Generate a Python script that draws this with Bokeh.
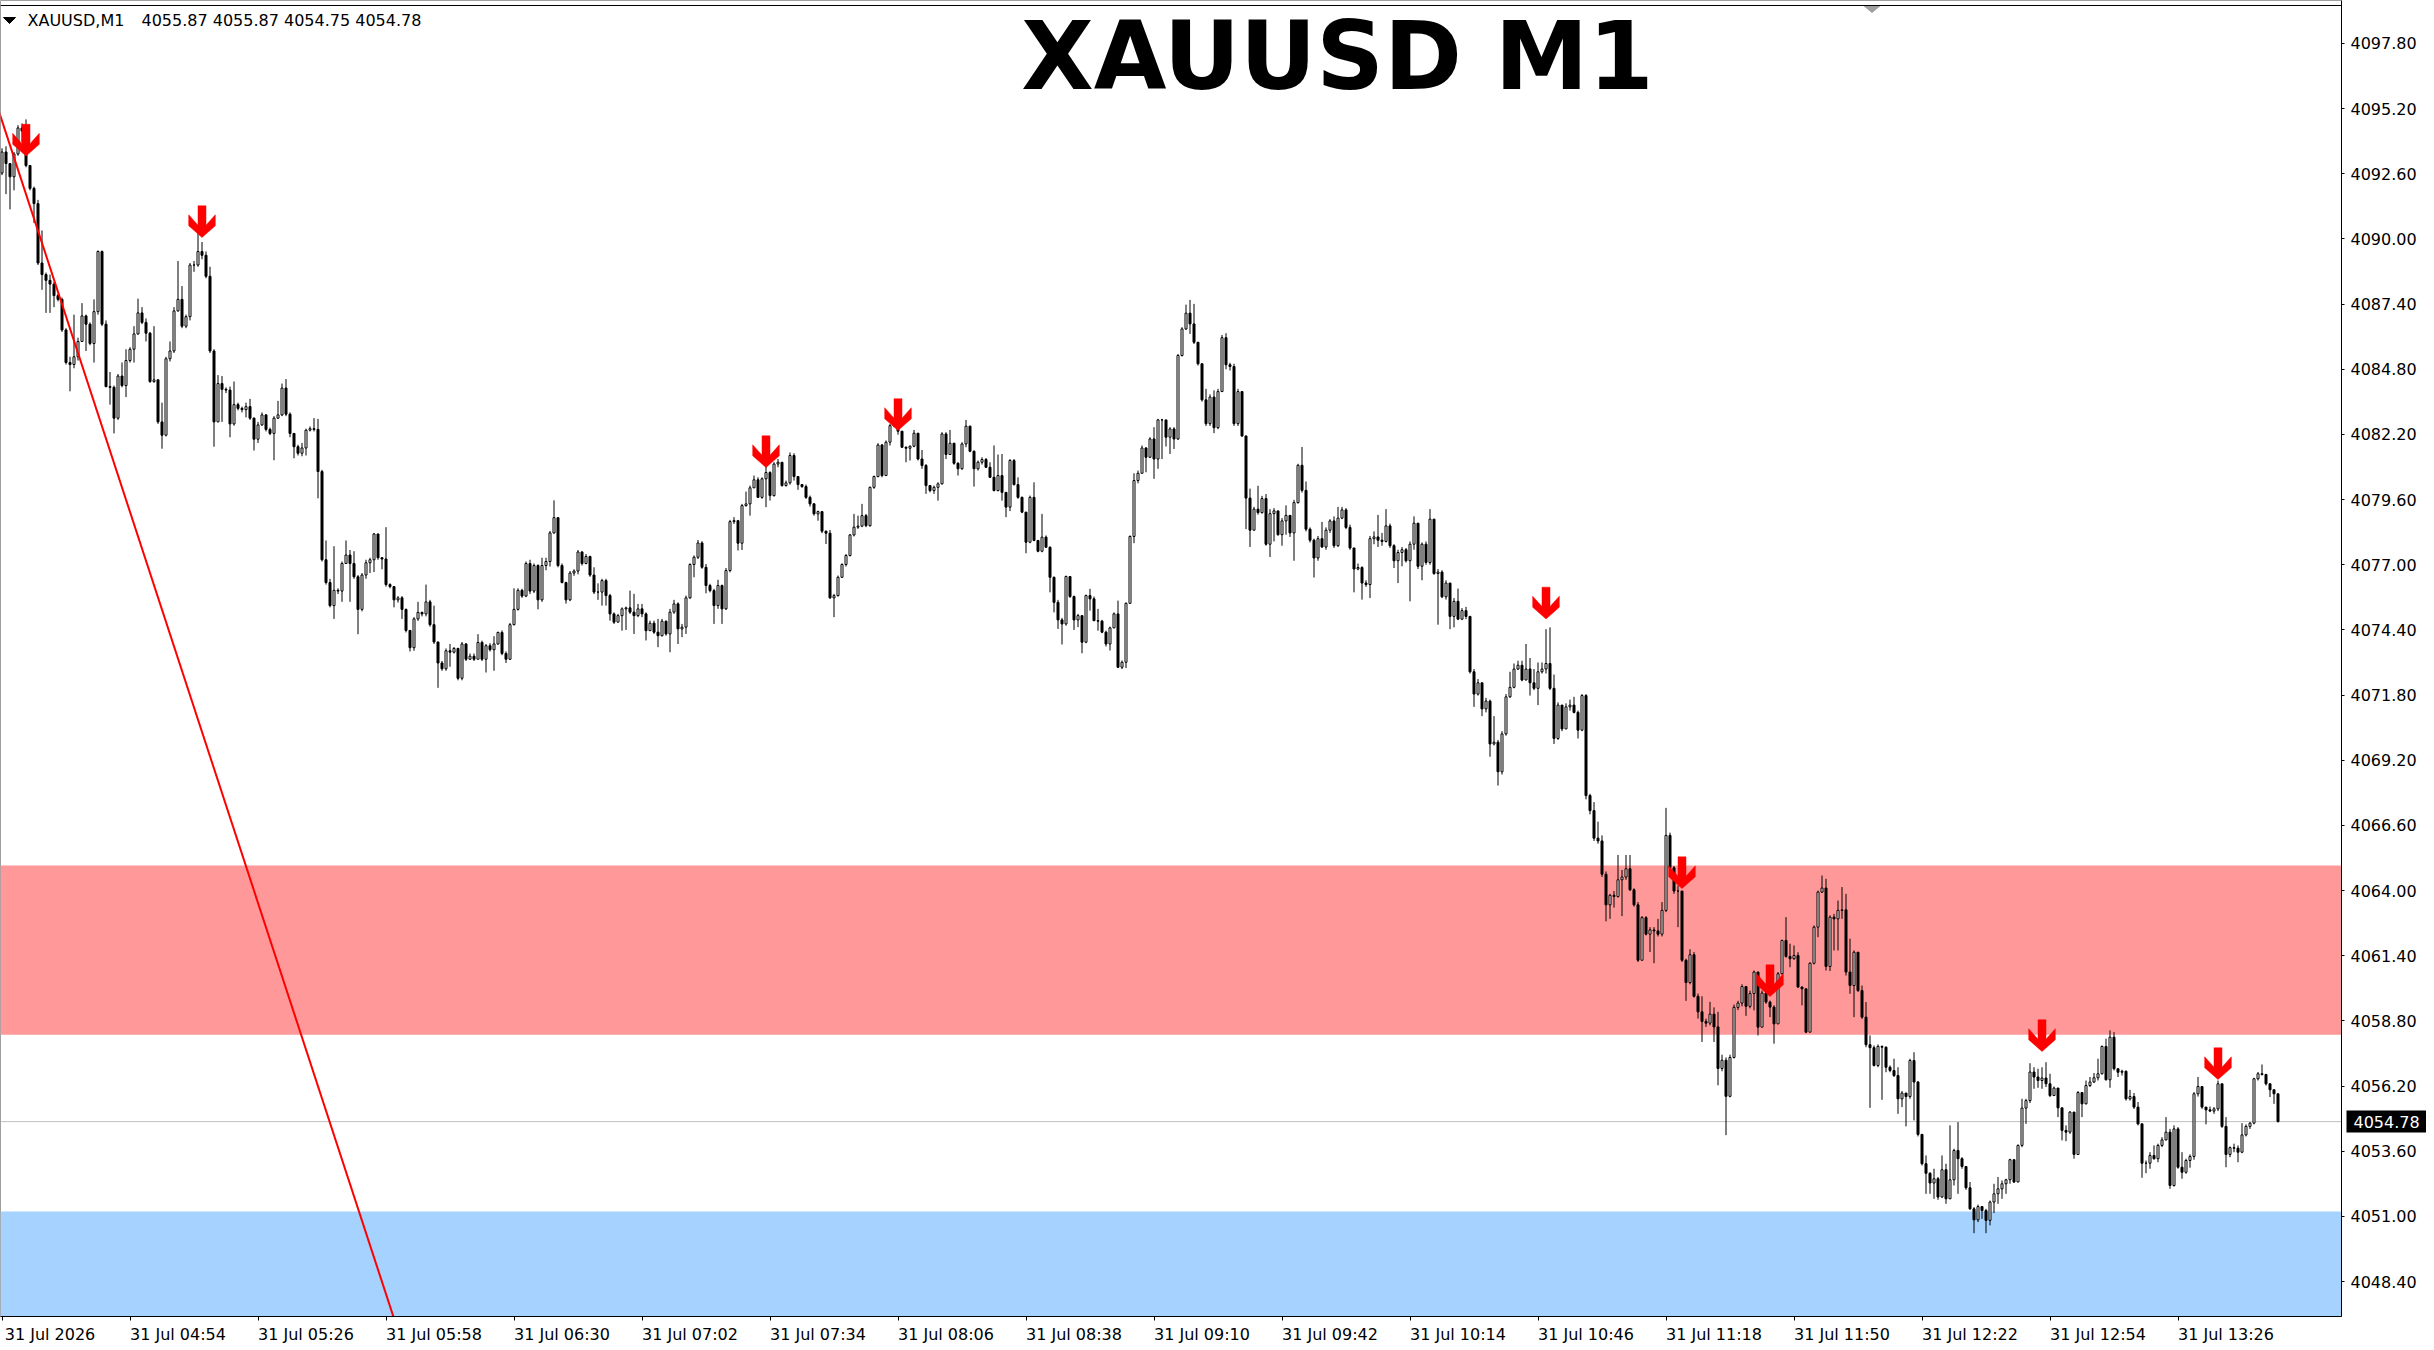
from bokeh.plotting import figure
from bokeh.models import (Range1d, FixedTicker, BoxAnnotation, Span, Label, PrintfTickFormatter,
                          ColumnDataSource, LinearAxis)
from bokeh.embed import file_html
from bokeh.resources import INLINE

# ---------------- data (XAUUSD M1) ----------------
FIRST_OPEN = 4092.63
CLOSE = [
4093.47, 4093.01, 4092.48, 4093.39, 4094.43, 4094.31, 4092.93, 4092.02, 4091.41, 4089.04,
4088.58, 4088.35, 4088.20, 4087.74, 4087.59, 4086.37, 4085.07, 4084.99, 4085.30, 4085.91,
4086.93, 4086.60, 4085.83, 4087.10, 4089.50, 4086.60, 4084.11, 4084.08, 4082.85, 4084.53,
4084.15, 4085.15, 4085.60, 4086.21, 4087.05, 4086.67, 4086.24, 4084.31, 4084.38, 4082.70,
4082.17, 4085.22, 4085.53, 4087.13, 4087.59, 4086.52, 4086.90, 4088.96, 4088.96, 4089.50,
4089.35, 4088.51, 4085.53, 4082.70, 4084.23, 4084.00, 4083.97, 4082.62, 4083.39, 4083.24,
4083.19, 4083.31, 4082.85, 4082.01, 4082.58, 4082.98, 4082.40, 4082.24, 4082.85, 4082.98,
4084.05, 4083.01, 4082.24, 4081.71, 4081.45, 4081.66, 4082.37, 4082.43, 4082.40, 4080.72,
4077.20, 4076.29, 4075.37, 4075.98, 4075.95, 4077.05, 4077.39, 4077.05, 4076.52, 4075.22,
4076.59, 4077.08, 4077.20, 4078.23, 4077.28, 4077.23, 4076.21, 4076.13, 4075.60, 4075.68,
4075.22, 4074.38, 4073.69, 4074.84, 4075.10, 4075.04, 4075.52, 4074.61, 4073.92, 4073.08,
4072.85, 4073.57, 4073.51, 4073.66, 4072.47, 4073.84, 4073.23, 4073.35, 4073.23, 4073.90,
4073.23, 4073.77, 4073.61, 4073.84, 4074.30, 4073.46, 4073.23, 4074.61, 4075.22, 4075.98,
4075.75, 4077.05, 4075.95, 4076.97, 4075.60, 4076.97, 4077.13, 4078.27, 4078.88, 4076.97,
4076.29, 4075.60, 4076.67, 4076.75, 4077.51, 4077.05, 4077.33, 4076.59, 4075.91, 4075.91,
4076.37, 4075.77, 4075.04, 4074.71, 4074.97, 4075.24, 4075.28, 4075.11, 4074.97, 4075.24,
4075.04, 4074.37, 4074.67, 4074.31, 4074.17, 4074.75, 4074.24, 4075.11, 4075.44, 4074.44,
4074.51, 4075.68, 4077.01, 4077.30, 4077.87, 4076.90, 4076.17, 4075.97, 4075.37, 4076.17,
4075.24, 4076.77, 4078.72, 4078.76, 4077.86, 4079.36, 4079.43, 4080.07, 4080.39, 4079.69,
4080.43, 4080.68, 4079.76, 4081.02, 4081.09, 4080.16, 4080.27, 4081.36, 4080.52, 4080.20,
4080.12, 4079.69, 4079.43, 4079.03, 4079.12, 4078.34, 4078.26, 4075.68, 4075.77, 4076.50,
4077.01, 4077.37, 4078.19, 4078.50, 4078.54, 4078.96, 4078.56, 4080.09, 4080.52, 4081.78,
4080.56, 4081.89, 4082.55, 4082.62, 4082.33, 4081.69, 4081.65, 4081.73, 4082.25, 4081.22,
4080.96, 4080.16, 4079.96, 4080.09, 4080.23, 4082.22, 4081.40, 4081.85,
4081.05, 4080.83, 4081.82, 4082.53, 4081.53, 4080.83, 4081.09, 4081.20, 4080.89, 4080.49,
4079.96, 4080.56, 4079.89, 4079.30, 4081.16, 4080.20, 4079.69, 4079.10, 4077.90, 4079.69,
4077.97, 4077.54, 4078.10, 4077.70, 4076.50, 4075.50, 4074.80, 4074.64, 4076.53, 4075.73,
4074.80, 4074.97, 4073.91, 4075.77, 4075.64, 4074.77, 4074.75, 4074.31, 4073.84, 4074.48,
4075.04, 4072.91, 4073.11, 4075.46, 4078.13, 4080.36, 4080.65, 4081.66, 4081.29, 4082.02,
4081.22, 4082.78, 4082.78, 4082.09, 4082.42, 4082.02, 4085.35, 4086.41, 4087.04, 4086.61,
4085.88, 4085.02,
4083.58, 4082.63, 4083.69, 4082.47, 4083.91, 4086.06, 4084.98, 4084.91, 4082.63, 4083.91,
4082.14, 4079.66, 4078.38, 4079.22, 4079.08, 4079.64, 4077.82, 4079.04, 4079.15, 4078.20,
4078.75, 4078.97, 4078.27, 4079.48, 4080.97, 4079.97, 4078.42, 4077.98, 4077.27, 4078.04,
4077.71, 4078.38, 4078.75, 4077.76, 4078.86, 4079.19, 4078.49, 4077.67, 4076.83, 4076.89,
4076.27, 4076.21, 4078.04, 4078.11, 4077.98,
4077.93, 4078.55, 4077.76, 4077.16, 4077.49, 4077.60, 4077.16, 4077.82, 4078.66, 4076.94,
4077.82, 4077.09, 4078.82, 4076.65, 4076.71, 4075.72, 4076.27, 4074.94, 4075.54, 4074.83,
4075.17, 4074.94, 4072.73, 4071.84, 4072.29, 4071.25, 4071.56, 4069.85, 4069.92, 4068.74,
4070.25, 4071.73, 4072.11, 4072.84, 4072.99, 4072.40, 4072.84, 4072.29, 4072.07, 4072.73,
4072.84, 4073.06, 4072.07, 4070.07, 4071.40, 4070.45, 4071.33, 4071.40,
4071.11, 4070.40, 4071.78, 4067.79, 4067.19, 4066.09, 4065.98, 4064.65, 4063.43, 4063.81,
4063.76, 4064.43, 4064.54, 4064.87, 4064.03, 4063.43, 4061.22, 4062.92, 4062.26, 4062.43,
4062.39, 4062.26, 4063.21, 4066.20, 4064.91, 4063.98, 4063.98, 4061.22, 4060.33, 4061.44,
4059.78, 4059.16, 4058.78, 4058.71, 4059.07, 4058.56, 4056.90, 4057.23, 4055.79, 4057.34,
4059.34, 4059.51, 4060.17, 4059.38, 4059.89,
4060.75, 4058.55, 4059.91, 4059.55, 4059.35, 4058.68, 4060.68, 4062.01, 4061.37, 4061.28,
4061.41, 4060.15, 4060.08, 4058.35, 4061.10, 4062.54, 4063.94, 4064.10, 4060.97, 4062.94,
4062.87,
4063.21, 4063.23, 4060.75, 4060.21, 4061.54, 4060.01, 4058.95, 4057.85, 4057.73, 4057.02,
4057.78, 4057.75, 4056.95,
4056.82,
4056.62, 4055.69, 4055.92, 4055.78, 4057.22, 4056.36, 4054.27, 4053.10, 4052.72, 4052.33,
4052.50, 4051.77, 4052.86, 4051.70, 4052.46, 4053.63, 4053.30, 4052.99, 4052.14, 4051.30,
4050.86, 4051.39, 4051.23, 4050.84, 4051.57, 4051.90, 4052.10, 4052.30, 4052.46, 4053.26,
4052.37, 4053.83, 4055.32, 4055.62, 4056.76, 4056.56, 4056.42, 4056.52, 4056.29, 4055.82,
4056.12, 4055.33, 4054.43, 4054.36, 4055.16, 4053.47, 4055.94, 4055.49, 4056.22, 4056.36,
4056.53, 4056.69, 4057.78, 4056.45, 4058.15, 4056.89, 4056.75, 4056.79, 4055.69, 4055.78,
4055.36, 4054.69, 4053.12, 4053.12, 4053.43, 4053.30, 4053.83, 4054.05, 4054.36, 4052.23,
4054.49, 4052.96, 4052.76, 4053.23, 4053.39, 4055.89, 4056.18, 4055.36, 4055.25, 4055.20,
4055.29, 4056.29, 4054.59, 4053.47, 4053.74, 4053.72, 4053.56, 4054.25, 4054.59, 4054.72,
4056.49, 4056.69, 4056.66, 4056.29, 4056.05, 4055.89, 4054.78,
]
HIGH = [
4093.62, 4093.70, 4093.01, 4093.47, 4094.54, 4094.61, 4094.77, 4092.93, 4092.09, 4091.56,
4090.34, 4088.66, 4088.58, 4088.28, 4087.82, 4087.66, 4086.44, 4085.30, 4086.98, 4086.06,
4087.44, 4086.98, 4086.67, 4087.59, 4089.54, 4089.54, 4086.75, 4084.69, 4084.15, 4084.61,
4085.07, 4085.60, 4085.68, 4086.52, 4087.62, 4087.28, 4086.83, 4086.29, 4086.52, 4084.38,
4083.47, 4085.30, 4085.91, 4087.28, 4089.12, 4088.12, 4086.98, 4089.04, 4089.12, 4090.26,
4089.88, 4089.50, 4088.89, 4085.60, 4084.57, 4084.53, 4084.08, 4084.11, 4084.31, 4083.47,
4083.31, 4083.47, 4083.62, 4082.88, 4082.70, 4083.08, 4083.01, 4082.47, 4082.93, 4083.54,
4084.23, 4084.41, 4083.08, 4082.24, 4081.79, 4081.86, 4082.43, 4082.52, 4082.85, 4082.82,
4080.79, 4077.97, 4076.44, 4077.74, 4076.06, 4077.13, 4077.97, 4077.59, 4077.54, 4076.59,
4076.67, 4077.20, 4077.28, 4078.27, 4078.23, 4077.31, 4078.50, 4076.26, 4076.13, 4075.75,
4075.75, 4075.25, 4074.38, 4074.91, 4075.52, 4075.13, 4076.21, 4075.60, 4075.37, 4073.92,
4073.16, 4073.66, 4073.84, 4073.72, 4073.69, 4073.92, 4073.87, 4073.46, 4073.46, 4074.23,
4073.97, 4073.84, 4073.87, 4074.15, 4074.33, 4074.38, 4073.54, 4074.68, 4076.06, 4076.06,
4076.04, 4077.13, 4077.20, 4077.05, 4077.02, 4077.28, 4077.28, 4078.35, 4079.57, 4078.81,
4077.05, 4076.32, 4076.75, 4076.82, 4077.59, 4077.54, 4077.43, 4077.36, 4076.90, 4076.26,
4076.44, 4076.44, 4075.84, 4075.10, 4075.04, 4075.30, 4075.33, 4075.97, 4075.84, 4075.44,
4075.44, 4075.10, 4074.77, 4074.77, 4074.84, 4074.84, 4074.77, 4075.24, 4075.60, 4075.50,
4074.64, 4075.77, 4077.06, 4077.37, 4077.99, 4077.94, 4077.03, 4076.24, 4076.04, 4076.40,
4076.21, 4076.87, 4078.79, 4078.90, 4078.79, 4079.43, 4079.92, 4080.16, 4080.56, 4080.49,
4080.49, 4081.02, 4080.73, 4081.09, 4081.22, 4081.05, 4080.36, 4081.48, 4081.45, 4080.43,
4080.20, 4080.20, 4079.76, 4079.46, 4079.16, 4079.14, 4078.36, 4078.39, 4075.84, 4076.57,
4077.06, 4077.43, 4078.23, 4079.03, 4078.96, 4079.43, 4079.03, 4080.12, 4080.56, 4081.85,
4081.82, 4081.96, 4082.62, 4082.69, 4082.51, 4082.33, 4081.72, 4081.76, 4082.38, 4082.22,
4081.58, 4081.02, 4080.16, 4080.16, 4080.29, 4082.29, 4082.29, 4082.38,
4081.58, 4081.09, 4081.89, 4082.78, 4082.55, 4081.56, 4081.16, 4081.29, 4081.26, 4081.09,
4081.76, 4081.40, 4081.42, 4079.85, 4081.22, 4081.22, 4080.49, 4079.72, 4079.10, 4079.76,
4080.29, 4077.99, 4079.03, 4078.17, 4077.73, 4076.53, 4075.60, 4074.88, 4076.57, 4076.50,
4075.77, 4075.04, 4074.64, 4075.81, 4076.04, 4075.73, 4075.24, 4074.80, 4074.37, 4074.53,
4075.10, 4075.57, 4073.18, 4075.50, 4078.17, 4080.65, 4080.76, 4081.76, 4081.69, 4082.09,
4082.49, 4082.82, 4082.82, 4082.42, 4082.49, 4082.49, 4085.41, 4086.48, 4087.38, 4087.57,
4087.41, 4085.88,
4085.02, 4084.02, 4083.80, 4083.96, 4084.02, 4086.17, 4086.24, 4085.06, 4085.02, 4084.02,
4083.91, 4081.92, 4080.04, 4079.31, 4080.15, 4079.75, 4079.82, 4079.22, 4079.26, 4078.86,
4078.86, 4079.37, 4078.93, 4079.59, 4081.03, 4081.70, 4080.32, 4078.49, 4078.04, 4078.15,
4078.71, 4078.49, 4078.82, 4078.93, 4079.31, 4079.31, 4079.26, 4078.60, 4077.67, 4077.05,
4076.94, 4076.38, 4078.15, 4078.33, 4078.99,
4078.27, 4079.22, 4078.64, 4077.82, 4077.60, 4077.71, 4077.67, 4077.93, 4078.93, 4078.64,
4077.89, 4077.93, 4079.22, 4078.77, 4076.83, 4076.78, 4076.38, 4076.21, 4075.67, 4076.05,
4075.27, 4075.32, 4074.94, 4072.84, 4072.44, 4071.95, 4071.69, 4071.62, 4070.96, 4070.01,
4070.36, 4071.84, 4072.73, 4073.06, 4073.17, 4073.17, 4073.84, 4073.28, 4072.84, 4073.10,
4073.10, 4074.43, 4074.50, 4072.62, 4071.51, 4071.40, 4071.47, 4071.62,
4071.73, 4071.18, 4071.84, 4071.84, 4067.86, 4067.53, 4066.75, 4066.20, 4064.76, 4063.87,
4063.98, 4065.42, 4064.82, 4065.42, 4065.42, 4064.09, 4063.54, 4062.98, 4062.98, 4062.54,
4062.54, 4062.87, 4063.54, 4067.30, 4066.31, 4064.98, 4064.20, 4063.87, 4061.28, 4061.66,
4061.55, 4059.89, 4059.78, 4058.89, 4059.56, 4059.34, 4059.16, 4057.45, 4057.34, 4057.45,
4059.45, 4059.60, 4060.26, 4059.60, 4060.01,
4060.81, 4060.75, 4060.01, 4060.15, 4059.61, 4059.42, 4060.75, 4062.04, 4062.94, 4061.88,
4061.81, 4061.54, 4060.17, 4060.08, 4061.14, 4062.61, 4064.00, 4064.60, 4064.47, 4063.01,
4063.07,
4063.60, 4064.14, 4063.87, 4062.08, 4061.61, 4061.48, 4060.21, 4059.55, 4058.22, 4057.82,
4057.86, 4057.82, 4057.78,
4057.02,
4057.29, 4056.95, 4056.00, 4055.92, 4057.29, 4057.55, 4056.40, 4054.29, 4053.43, 4052.76,
4052.90, 4052.57, 4053.43, 4053.10, 4054.63, 4053.70, 4054.76, 4053.36, 4052.99, 4052.37,
4051.37, 4051.47, 4051.37, 4051.30, 4051.63, 4052.30, 4052.57, 4052.43, 4052.50, 4053.30,
4053.26, 4053.87, 4055.69, 4055.69, 4057.11, 4056.95, 4056.89, 4056.95, 4057.15, 4056.69,
4056.18, 4056.05, 4055.16, 4054.63, 4055.20, 4055.16, 4056.00, 4055.96, 4056.42, 4056.56,
4056.72, 4057.29, 4057.82, 4058.09, 4058.42, 4058.35, 4056.89, 4056.85, 4056.82, 4056.05,
4055.92, 4055.56, 4054.72, 4053.23, 4053.56, 4053.83, 4053.90, 4054.16, 4054.96, 4054.49,
4054.63, 4054.56, 4053.56, 4053.30, 4053.47, 4055.96, 4056.56, 4056.18, 4055.36, 4055.38,
4055.36, 4056.42, 4056.22, 4054.96, 4053.79, 4053.90, 4053.83, 4054.72, 4054.67, 4054.76,
4056.53, 4056.76, 4057.06, 4056.69, 4056.29, 4056.05, 4055.87,
]
LOW = [
4092.55, 4091.79, 4091.18, 4091.94, 4093.32, 4093.85, 4092.86, 4091.94, 4090.64, 4088.96,
4087.97, 4087.05, 4087.05, 4087.28, 4087.51, 4086.29, 4084.99, 4083.92, 4084.84, 4085.15,
4086.06, 4085.53, 4085.76, 4085.07, 4086.98, 4086.52, 4084.08, 4083.39, 4082.24, 4082.78,
4084.08, 4083.69, 4085.07, 4085.07, 4086.18, 4086.60, 4085.91, 4084.26, 4084.26, 4082.62,
4081.63, 4082.12, 4085.11, 4085.45, 4087.10, 4086.44, 4086.44, 4086.75, 4088.69, 4088.89,
4089.19, 4088.43, 4085.45, 4081.71, 4082.70, 4082.70, 4083.85, 4082.09, 4082.55, 4083.16,
4083.08, 4082.88, 4082.78, 4081.56, 4081.86, 4082.55, 4082.32, 4082.17, 4081.17, 4082.82,
4082.93, 4082.93, 4082.09, 4081.25, 4081.36, 4081.33, 4081.36, 4082.32, 4082.32, 4079.65,
4077.13, 4076.21, 4075.30, 4074.84, 4075.83, 4075.52, 4077.20, 4075.52, 4076.44, 4074.23,
4075.14, 4076.44, 4076.67, 4076.71, 4077.20, 4076.82, 4076.13, 4076.06, 4075.30, 4075.49,
4074.84, 4074.30, 4073.54, 4073.57, 4074.76, 4074.94, 4074.94, 4074.53, 4073.84, 4072.09,
4072.77, 4072.77, 4072.93, 4073.46, 4072.39, 4072.39, 4073.16, 4073.20, 4073.16, 4073.26,
4073.16, 4072.70, 4073.54, 4072.77, 4073.81, 4073.39, 4073.08, 4073.20, 4074.58, 4075.17,
4075.68, 4075.71, 4075.83, 4075.87, 4075.22, 4075.52, 4076.78, 4076.93, 4078.24, 4076.90,
4076.26, 4075.45, 4075.55, 4076.56, 4076.62, 4076.97, 4077.02, 4076.52, 4075.83, 4075.60,
4075.37, 4075.37, 4074.77, 4074.64, 4074.71, 4074.37, 4074.40, 4075.04, 4074.24, 4074.91,
4074.91, 4073.98, 4074.44, 4074.24, 4073.71, 4074.14, 4074.17, 4073.51, 4075.04, 4073.84,
4074.11, 4074.24, 4075.64, 4076.50, 4077.23, 4076.84, 4075.86, 4075.90, 4074.64, 4075.24,
4074.64, 4075.20, 4076.70, 4078.63, 4077.57, 4077.59, 4079.32, 4078.96, 4080.07, 4079.67,
4079.63, 4079.30, 4079.56, 4079.72, 4080.89, 4080.12, 4080.12, 4080.20, 4080.36, 4079.99,
4080.07, 4079.63, 4079.32, 4078.96, 4078.76, 4078.26, 4077.83, 4075.64, 4074.91, 4075.73,
4076.48, 4076.93, 4077.33, 4078.13, 4078.43, 4078.50, 4078.50, 4078.52, 4080.03, 4080.49,
4080.49, 4080.96, 4081.76, 4082.49, 4082.19, 4081.66, 4081.09, 4081.16, 4081.69, 4081.16,
4080.83, 4079.83, 4079.89, 4079.83, 4079.56, 4080.20, 4081.22, 4081.42,
4080.99, 4080.56, 4080.79, 4081.69, 4081.49, 4080.12, 4080.76, 4081.00, 4080.87, 4080.47,
4079.93, 4079.93, 4079.56, 4078.90, 4079.14, 4080.16, 4079.63, 4079.06, 4077.46, 4077.86,
4077.94, 4077.50, 4077.50, 4077.67, 4075.90, 4075.10, 4074.44, 4073.82, 4074.57, 4075.68,
4074.40, 4074.51, 4073.47, 4073.87, 4075.17, 4074.75, 4074.37, 4074.27, 4073.74, 4073.58,
4074.51, 4072.88, 4072.84, 4072.88, 4075.84, 4077.86, 4080.25, 4080.69, 4080.69, 4081.26,
4080.43, 4080.83, 4081.22, 4081.72, 4081.42, 4081.62, 4081.98, 4085.31, 4086.37, 4086.21,
4085.81, 4084.95,
4083.51, 4082.54, 4082.54, 4082.25, 4082.41, 4083.91, 4084.80, 4084.75, 4082.54, 4082.54,
4082.10, 4078.42, 4077.71, 4078.38, 4079.00, 4079.04, 4077.76, 4077.31, 4077.93, 4078.16,
4077.76, 4078.20, 4078.11, 4077.16, 4079.44, 4079.88, 4078.33, 4077.89, 4076.49, 4077.16,
4077.67, 4077.60, 4078.27, 4077.67, 4077.71, 4078.82, 4078.42, 4077.60, 4075.90, 4076.78,
4075.61, 4076.12, 4075.67, 4077.82, 4077.71,
4077.76, 4077.89, 4077.67, 4076.87, 4076.27, 4076.94, 4077.09, 4075.54, 4077.60, 4076.83,
4076.38, 4077.00, 4077.00, 4076.60, 4074.61, 4075.67, 4075.61, 4074.43, 4074.50, 4074.79,
4074.79, 4074.83, 4072.66, 4071.33, 4071.78, 4070.96, 4071.11, 4069.34, 4069.79, 4068.19,
4068.63, 4070.18, 4071.69, 4072.07, 4072.80, 4072.35, 4072.44, 4071.78, 4072.00, 4071.40,
4072.66, 4072.66, 4072.00, 4069.85, 4070.01, 4070.36, 4070.45, 4071.18,
4071.07, 4070.07, 4070.36, 4067.64, 4067.04, 4065.98, 4065.87, 4064.54, 4062.77, 4062.87,
4063.32, 4063.72, 4062.98, 4064.43, 4063.98, 4063.36, 4061.15, 4061.22, 4062.21, 4061.55,
4061.10, 4062.17, 4062.17, 4063.14, 4064.87, 4063.87, 4062.54, 4061.15, 4059.60, 4060.26,
4059.73, 4058.89, 4057.96, 4058.56, 4058.62, 4057.96, 4056.23, 4056.79, 4054.24, 4055.75,
4057.30, 4059.23, 4059.38, 4059.00, 4059.30,
4059.22, 4058.22, 4058.55, 4059.48, 4058.95, 4057.89, 4058.79, 4060.65, 4061.32, 4060.94,
4061.24, 4060.12, 4059.42, 4058.31, 4058.35, 4061.05, 4062.14, 4063.90, 4060.81, 4060.79,
4061.61,
4061.61, 4062.87, 4060.61, 4059.88, 4058.95, 4059.95, 4058.88, 4057.75, 4055.33, 4056.98,
4056.95, 4055.65, 4056.75,
4056.75,
4056.56, 4055.09, 4055.36, 4054.59, 4055.69, 4054.83, 4054.19, 4053.03, 4051.90, 4051.90,
4051.70, 4051.66, 4051.74, 4051.50, 4051.77, 4052.23, 4051.90, 4052.90, 4052.06, 4051.26,
4050.33, 4050.77, 4050.90, 4050.33, 4050.64, 4051.13, 4051.50, 4051.70, 4051.90, 4052.30,
4052.33, 4052.37, 4053.76, 4054.69, 4055.52, 4056.09, 4056.13, 4056.09, 4056.16, 4055.76,
4055.82, 4054.96, 4054.03, 4054.00, 4054.29, 4053.30, 4053.52, 4054.96, 4055.47, 4056.16,
4056.32, 4056.42, 4056.66, 4056.42, 4056.13, 4056.82, 4056.56, 4056.62, 4055.62, 4055.62,
4055.29, 4054.63, 4052.54, 4052.72, 4052.90, 4053.26, 4053.16, 4053.76, 4054.03, 4052.10,
4052.19, 4052.90, 4052.50, 4052.70, 4052.94, 4053.26, 4055.78, 4055.29, 4054.67, 4055.16,
4055.09, 4055.20, 4054.53, 4052.96, 4053.36, 4053.56, 4053.16, 4053.52, 4054.19, 4054.49,
4054.67, 4056.42, 4056.62, 4056.22, 4055.76, 4055.49, 4054.75,
]

Y_TICKS = [4048.40, 4051.00, 4053.60, 4056.20, 4058.80, 4061.40, 4064.00, 4066.60, 4069.20, 4071.80,
           4074.40, 4077.00, 4079.60, 4082.20, 4084.80, 4087.40, 4090.00, 4092.60, 4095.20, 4097.80]
X_TICK_BARS = [0, 32, 64, 96, 128, 160, 192, 224, 256, 288, 320, 352, 384, 416, 448, 480, 512, 544]
X_TICK_LABELS = ["31 Jul 2026", "31 Jul 04:54", "31 Jul 05:26", "31 Jul 05:58", "31 Jul 06:30",
                 "31 Jul 07:02", "31 Jul 07:34", "31 Jul 08:06", "31 Jul 08:38", "31 Jul 09:10",
                 "31 Jul 09:42", "31 Jul 10:14", "31 Jul 10:46", "31 Jul 11:18", "31 Jul 11:50",
                 "31 Jul 12:22", "31 Jul 12:54", "31 Jul 13:26"]

ARROW_BAR = [6, 50, 191, 224, 386, 420, 442, 510, 554]
ARROW_PRICE = [4093.31, 4090.06, 4080.88, 4082.36, 4074.84, 4064.08, 4059.77, 4057.58, 4056.46]

TREND_BAR = [-2, 104]
TREND_PRICE = [4095.69, 4044.00]

RED_ZONE = (4058.25, 4065.00)
BLUE_ZONE_TOP = 4051.19
LAST_PRICE = 4054.78
SYMBOL = "XAUUSD,M1"
OHLC_TEXT = "4055.87 4055.87 4054.75 4054.78"
TITLE = "XAUUSD M1"

# ---------------- layout ----------------
TOP_GAP = 5                       # px between the page top and the chart's top border
FRAME_W, FRAME_H = 2341, 1316
BAR_PX = 4.0
X0 = -0.375
X1 = X0 + FRAME_W / BAR_PX
Y0 = 4047.004
PPY = 1311 / (4099.316 - Y0)
Y1 = Y0 + FRAME_H / PPY
Y_BORDER = Y1 - TOP_GAP / PPY
PPX = FRAME_W / (X1 - X0)

p = figure(frame_width=FRAME_W, frame_height=FRAME_H, x_range=Range1d(X0, X1), y_range=Range1d(Y0, Y1),
           output_backend="svg", toolbar_location=None, y_axis_location="right",
           min_border_left=0, min_border_right=85, min_border_top=0, min_border_bottom=0,
           background_fill_color="white", border_fill_color="white")
p.grid.visible = False
p.outline_line_color = "#A0A0A0"
p.outline_line_width = 1

AX_FONT = "DejaVu Sans"
yax = p.yaxis[0]
yax.ticker = FixedTicker(ticks=Y_TICKS)
yax.formatter = PrintfTickFormatter(format="%.2f")
yax.major_tick_out = 3
yax.major_tick_in = 0
yax.minor_tick_out = 0
yax.minor_tick_in = 0
yax.major_label_standoff = 6
yax.major_label_text_font = AX_FONT
yax.major_label_text_font_size = "16px"
yax.major_label_text_color = "black"
yax.axis_line_color = "black"
yax.major_tick_line_color = "black"

# price tag on the price scale: a thick inward tick behind a white label
tag_ax = LinearAxis(ticker=FixedTicker(ticks=[LAST_PRICE]), formatter=PrintfTickFormatter(format="%.2f"),
                    axis_line_color=None, major_tick_in=73, major_tick_out=7,
                    minor_tick_in=0, minor_tick_out=0, major_tick_line_width=22,
                    major_tick_line_color="black", major_label_standoff=-73,
                    major_label_text_color="white", major_label_text_font=AX_FONT,
                    major_label_text_font_size="16px")
p.add_layout(tag_ax, "right")

LABEL_SHIFT = 12
xax = p.xaxis[0]
xax.ticker = FixedTicker(ticks=[b + LABEL_SHIFT for b in X_TICK_BARS], minor_ticks=X_TICK_BARS)
xax.major_label_overrides = {b + LABEL_SHIFT: t for b, t in zip(X_TICK_BARS, X_TICK_LABELS)}
xax.major_tick_out = 0
xax.major_tick_in = 0
xax.minor_tick_out = 4
xax.minor_tick_in = 0
xax.minor_tick_line_color = "black"
xax.major_label_standoff = 4
xax.major_label_text_font = AX_FONT
xax.major_label_text_font_size = "16px"
xax.major_label_text_color = "black"
xax.axis_line_color = "black"

# zones, chart top border and current price line
p.add_layout(BoxAnnotation(bottom=RED_ZONE[0], top=RED_ZONE[1], fill_color="#FF9999", fill_alpha=1.0,
                           line_color=None, level="underlay"))
p.add_layout(BoxAnnotation(top=BLUE_ZONE_TOP, fill_color="#A6D2FF", fill_alpha=1.0,
                           line_color=None, level="underlay"))
p.add_layout(Span(location=LAST_PRICE, dimension="width", line_color="#C0C0C0", line_width=1,
                  level="underlay"))
p.add_layout(Span(location=Y_BORDER, dimension="width", line_color="black", line_width=1))

# candles
N = len(CLOSE)
IDX = list(range(N))
OPEN = [FIRST_OPEN] + CLOSE[:-1]
src = ColumnDataSource(dict(
    x=IDX, h=HIGH[:N], l=LOW[:N],
    top=[max(o, c) for o, c in zip(OPEN, CLOSE)],
    bot=[min(o, c) for o, c in zip(OPEN, CLOSE)],
    fill=["white" if c >= o else "black" for o, c in zip(OPEN, CLOSE)],
))
p.segment(x0="x", y0="h", x1="x", y1="l", source=src, line_color="black", line_width=1)
p.vbar(x="x", top="top", bottom="bot", width=0.5, fill_color="fill", line_color="black",
       line_width=1, source=src)

# trend line
p.line(TREND_BAR, TREND_PRICE, line_color="#FF0000", line_width=2)

# down arrows (tip at the given price)
ARROW_SHAPE_PX = [(-4, 31.7), (4, 31.7), (4, 12.3), (13.3, 22.7), (13.3, 11.7), (0, 0),
                  (-13.3, 11.7), (-13.3, 22.7), (-4, 12.3)]
axs = [[b + dx / PPX for dx, dy in ARROW_SHAPE_PX] for b in ARROW_BAR]
ays = [[pr + dy / PPY for dx, dy in ARROW_SHAPE_PX] for pr in ARROW_PRICE]
p.patches(axs, ays, fill_color="#FF0000", line_color="#FF0000", line_width=0.5)

# small decorations (page-pixel positions converted to data units)
def fx(px):
    return X0 + px / PPX

def fy(py_from_top):
    return Y1 - py_from_top / PPY

p.patch([fx(3), fx(15), fx(9)], [fy(17), fy(17), fy(23)], fill_color="black", line_color="black")
p.patch([fx(1863), fx(1880), fx(1871.5)], [fy(5), fy(5), fy(12)], fill_color="#A0A0A0",
        line_color="#A0A0A0")

# texts (screen y measured from the frame bottom)
p.add_layout(Label(x=27, y=FRAME_H - 20, x_units="screen", y_units="screen", text=SYMBOL,
                   text_font=AX_FONT, text_font_size="16px", text_color="black",
                   text_baseline="middle", text_align="left"))
p.add_layout(Label(x=141, y=FRAME_H - 20, x_units="screen", y_units="screen", text=OHLC_TEXT,
                   text_font=AX_FONT, text_font_size="16px", text_color="black",
                   text_baseline="middle", text_align="left"))
p.add_layout(Label(x=1337, y=FRAME_H - 1, x_units="screen", y_units="screen", text=TITLE,
                   text_font="DejaVu Sans", text_font_style="bold",
                   text_font_size="94px", text_color="black",
                   text_baseline="top", text_align="center"))

open("out.html", "w").write(file_html(p, INLINE, title="XAUUSD M1"))
